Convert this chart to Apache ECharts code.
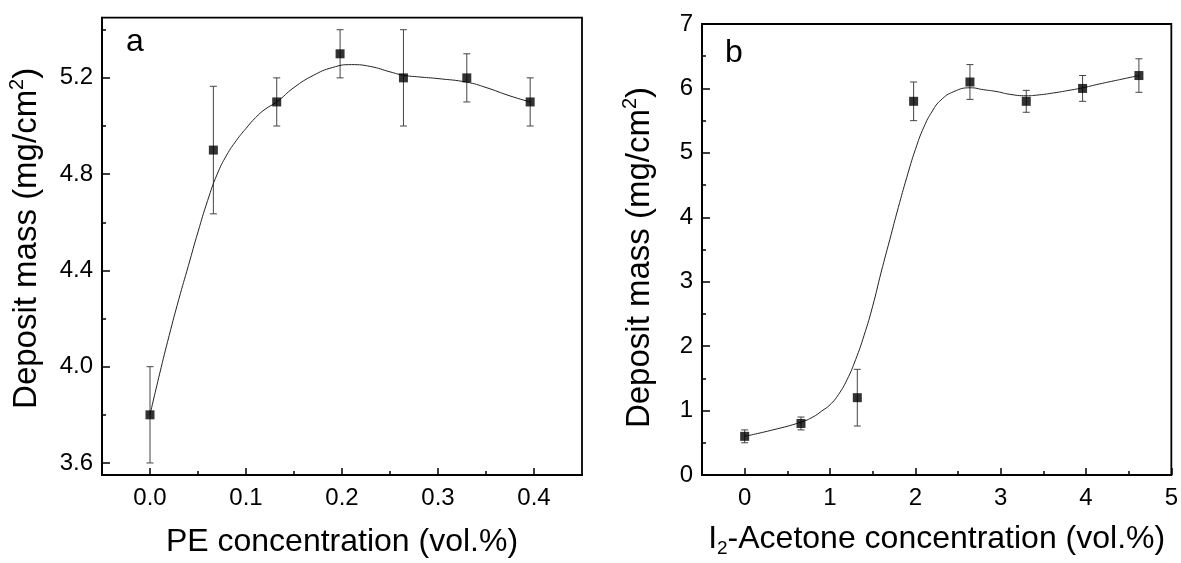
<!DOCTYPE html>
<html>
<head>
<meta charset="utf-8">
<script src="https://cdn.jsdelivr.net/npm/echarts@6/dist/echarts.min.js"></script>
<style>
html,body{margin:0;padding:0;background:#fff;}
#c{width:1181px;height:563px;}
</style>
</head>
<body>
<div id="c"></div>
<script>
// ---- Panel a data: PE concentration ----
const peX = [0, 0.066, 0.132, 0.198, 0.264, 0.33, 0.396];
const peMass = [3.8, 4.9, 5.1, 5.3, 5.2, 5.2, 5.1];
const peErr = [0.2, 0.265, 0.1, 0.1, 0.2, 0.1, 0.1];
// smooth fitted curve
const peCurveX = [0, 0.01, 0.02, 0.03, 0.04, 0.05, 0.06, 0.07, 0.08, 0.09, 0.10, 0.11, 0.12, 0.132, 0.15, 0.17, 0.19, 0.21, 0.23, 0.25, 0.264, 0.28, 0.30, 0.33, 0.35, 0.375, 0.396];
const peCurveY = [3.8, 3.97, 4.13, 4.28, 4.42, 4.56, 4.69, 4.8, 4.88, 4.94, 4.99, 5.035, 5.07, 5.1, 5.16, 5.21, 5.243, 5.255, 5.247, 5.225, 5.211, 5.204, 5.197, 5.182, 5.16, 5.125, 5.1];
const peXTicks = [0, 0.1, 0.2, 0.3, 0.4];
const peXMinor = [0.05, 0.15, 0.25, 0.35];
const peYTicks = [3.6, 4.0, 4.4, 4.8, 5.2];
const peYMinor = [3.8, 4.2, 4.6, 5.0, 5.4];

// ---- Panel b data: I2-Acetone concentration ----
const iaX = [0, 0.66, 1.32, 1.98, 2.64, 3.3, 3.96, 4.62];
const iaMass = [0.6, 0.8, 1.2, 5.8, 6.1, 5.8, 6.0, 6.2];
const iaErr = [0.1, 0.1, 0.44, 0.3, 0.27, 0.17, 0.2, 0.26];
const iaCurveX = [0, 0.33, 0.66, 0.8, 0.9, 1.0, 1.1, 1.2, 1.3, 1.4, 1.5, 1.6, 1.7, 1.8, 1.9, 2.0, 2.1, 2.2, 2.3, 2.45, 2.644, 2.8, 2.96, 3.1, 3.3, 3.45, 3.62, 3.8, 3.963, 4.126, 4.3, 4.46, 4.62];
const iaCurveY = [0.6, 0.7, 0.82, 0.9, 0.99, 1.09, 1.25, 1.48, 1.79, 2.17, 2.62, 3.15, 3.65, 4.15, 4.62, 5.05, 5.4, 5.65, 5.82, 5.95, 6.01, 5.98, 5.95, 5.91, 5.886, 5.9, 5.93, 5.97, 6.01, 6.06, 6.11, 6.155, 6.2];
const iaXTicks = [0, 1, 2, 3, 4, 5];
const iaXMinor = [0.5, 1.5, 2.5, 3.5, 4.5];

const FONT = "'Liberation Sans', Arial, sans-serif";
const chart = echarts.init(document.getElementById('c'), null, {renderer: 'canvas'});

function pairs(xs, ys) { return xs.map((x, i) => [x, ys[i]]); }
function errData(xs, ys, es) { return xs.map((x, i) => [x, ys[i] - es[i], ys[i] + es[i]]); }

function errRender(params, api) {
  const x = api.value(0), lo = api.value(1), hi = api.value(2);
  const pLo = api.coord([x, lo]), pHi = api.coord([x, hi]);
  const hw = 3.5;
  const style = {stroke: '#444', lineWidth: 1, fill: null};
  return {type: 'group', children: [
    {type: 'line', shape: {x1: pLo[0], y1: pLo[1], x2: pHi[0], y2: pHi[1]}, style: style},
    {type: 'line', shape: {x1: pLo[0] - hw, y1: pLo[1], x2: pLo[0] + hw, y2: pLo[1]}, style: style},
    {type: 'line', shape: {x1: pHi[0] - hw, y1: pHi[1], x2: pHi[0] + hw, y2: pHi[1]}, style: style}
  ]};
}

const axisLineStyle = {show: true, onZero: false, lineStyle: {color: '#000', width: 1.8}};
const labelStyle = {color: '#000', fontSize: 24, fontFamily: FONT};
function richFor(size) {
  return {
    n: {fontSize: size, fontFamily: FONT, color: '#000', lineHeight: size + 6},
    sup: {fontSize: Math.round(size * 0.6), fontFamily: FONT, color: '#000', verticalAlign: 'top'},
    sub: {fontSize: Math.round(size * 0.6), fontFamily: FONT, color: '#000', verticalAlign: 'bottom'}
  };
}

function mainX(grid, min, max, ticks, fmt, name, gap) {
  return {
    type: 'value', gridIndex: grid, min: min, max: max, position: 'bottom',
    axisLine: axisLineStyle,
    axisTick: {show: true, inside: true, length: 7, lineStyle: {color: '#000', width: 1.5}, customValues: ticks},
    axisLabel: {show: true, customValues: ticks, formatter: fmt, margin: 11, ...labelStyle},
    splitLine: {show: false},
    name: name, nameLocation: 'middle', nameGap: gap,
    nameTextStyle: {rich: richFor(32)}
  };
}
function minorAxis(grid, min, max, vals, pos) {
  return {
    type: 'value', gridIndex: grid, min: min, max: max, position: pos,
    axisLine: {show: false, onZero: false},
    axisTick: {show: true, inside: true, length: 4, lineStyle: {color: '#000', width: 1.5}, customValues: vals},
    axisLabel: {show: false},
    splitLine: {show: false}
  };
}

const option = {
  backgroundColor: '#fff',
  animation: false,
  grid: [
    {left: 102, top: 17.7, right: 599, bottom: 87.3, show: true, borderColor: '#000', borderWidth: 1.8, backgroundColor: 'transparent'},
    {left: 702, top: 24, right: 6, bottom: 83.7, show: true, borderColor: '#000', borderWidth: 1.8, backgroundColor: 'transparent'}
  ],
  xAxis: [
    mainX(0, -0.05, 0.45, peXTicks, v => v.toFixed(1), '{n|PE concentration (vol.%)}', 48),
    mainX(1, -0.5, 5, iaXTicks, v => String(Math.round(v)), '{n|I}{sub|2}{n|-Acetone concentration (vol.%)}', 45),
    minorAxis(0, -0.05, 0.45, peXMinor, 'bottom'),
    minorAxis(1, -0.5, 5, iaXMinor, 'bottom')
  ],
  yAxis: [
    {
      type: 'value', gridIndex: 0, min: 3.55, max: 5.45, position: 'left',
      axisLine: axisLineStyle,
      axisTick: {show: true, inside: true, length: 8, lineStyle: {color: '#000', width: 1.5}, customValues: peYTicks},
      axisLabel: {show: true, customValues: peYTicks, formatter: v => v.toFixed(1), margin: 9, ...labelStyle},
      splitLine: {show: false},
      name: '{n|Deposit mass (mg/cm}{sup|2}{n|)}', nameLocation: 'middle', nameGap: 56,
      nameTextStyle: {rich: richFor(33), padding: [0, 0, 0, 16]}
    },
    {
      type: 'value', gridIndex: 1, min: 0, max: 7, interval: 1, position: 'left',
      axisLine: axisLineStyle,
      axisTick: {show: true, inside: true, length: 8, lineStyle: {color: '#000', width: 1.5}},
      minorTick: {show: true, splitNumber: 2, length: 4, lineStyle: {color: '#000', width: 1.5}},
      axisLabel: {show: true, margin: 9, ...labelStyle},
      splitLine: {show: false},
      minorSplitLine: {show: false},
      name: '{n|Deposit mass (mg/cm}{sup|2}{n|)}', nameLocation: 'middle', nameGap: 43,
      nameTextStyle: {rich: richFor(33), padding: [0, 16, 0, 0]}
    },
    minorAxis(0, 3.55, 5.45, peYMinor, 'left')
  ],
  graphic: [
    {type: 'text', left: 126, top: 26, style: {text: 'a', font: '32px ' + FONT, fill: '#000'}},
    {type: 'text', left: 725, top: 37, style: {text: 'b', font: '32px ' + FONT, fill: '#000'}}
  ],
  series: [
    {type: 'custom', xAxisIndex: 0, yAxisIndex: 0, renderItem: errRender, data: errData(peX, peMass, peErr), z: 2, silent: true},
    {type: 'line', xAxisIndex: 0, yAxisIndex: 0, data: pairs(peCurveX, peCurveY), smooth: 0.5, showSymbol: false, lineStyle: {color: '#222', width: 1}, z: 3, silent: true},
    {type: 'scatter', xAxisIndex: 0, yAxisIndex: 0, data: pairs(peX, peMass), symbol: 'rect', symbolSize: 9, itemStyle: {color: '#000'}, z: 4},
    {type: 'custom', xAxisIndex: 1, yAxisIndex: 1, renderItem: errRender, data: errData(iaX, iaMass, iaErr), z: 2, silent: true},
    {type: 'line', xAxisIndex: 1, yAxisIndex: 1, data: pairs(iaCurveX, iaCurveY), smooth: 0.5, showSymbol: false, lineStyle: {color: '#222', width: 1}, z: 3, silent: true},
    {type: 'scatter', xAxisIndex: 1, yAxisIndex: 1, data: pairs(iaX, iaMass), symbol: 'rect', symbolSize: 9, itemStyle: {color: '#000'}, z: 4}
  ]
};
chart.setOption(option);
</script>
</body>
</html>
